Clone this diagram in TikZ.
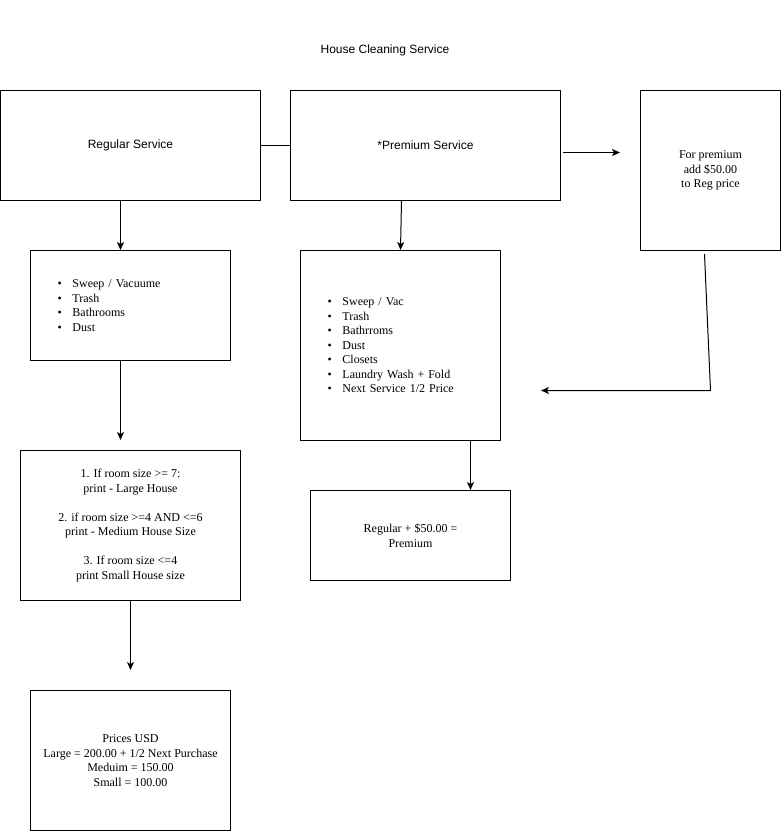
\documentclass[tikz,border=0pt]{standalone}
\usepackage{fontspec}
\setmainfont{Liberation Serif}
\newfontfamily\arialf{Liberation Sans}
\usetikzlibrary{arrows.meta}
\newcommand\itm{\makebox[15pt][l]{\textbullet}}
\tikzset{
  box/.style={draw, line width=1pt, inner sep=0pt, align=center,
    font=\fontsize{12}{14.5}\selectfont},
  sbox/.style={box, font=\arialf\fontsize{12}{14.5}\selectfont},
  lbox/.style={box, align=left, inner xsep=27pt, inner ysep=0pt},
  arr/.style={line width=1pt, -{Stealth[length=8pt,width=7pt,inset=2pt]}},
  ln/.style={line width=1pt}
}
\begin{document}
\begin{tikzpicture}[x=1pt,y=-1pt]
\useasboundingbox (0,0) rectangle (781,831);
\node[font=\arialf\fontsize{12}{14.5}\selectfont] (title) at (385,50) {House Cleaning Service};
\node[sbox, minimum width=260, minimum height=110] (reg) at (130.5,145.5) {Regular Service};
\node[sbox, minimum width=270, minimum height=110] (prem) at (425.5,145.5) {*Premium Service};
\node[box, minimum width=140, minimum height=160] (forp) at (710.5,170.5) {For premium\\ add \$50.00\\to Reg price};
\node[lbox, text width=146, minimum height=110] (lista) at (130.5,305.5) {\itm Sweep / Vacuume\\\itm Trash\\\itm Bathrooms\\\itm Dust};
\node[lbox, text width=146, minimum height=190] (listb) at (400.5,345.5) {\itm Sweep / Vac\\\itm Trash\\\itm Bathrroms\\\itm Dust\\\itm Closets\\\itm Laundry Wash + Fold\\\itm Next Service 1/2 Price};
\node[box, minimum width=200, minimum height=90] (plus) at (410.5,535.5) {Regular + \$50.00 =\\Premium};
\node[box, minimum width=220, minimum height=150] (rules) at (130.5,525.5) {1. If room size {>}= 7:\\print - Large House\\[14.5pt]2. if room size {>}=4 AND {<}=6\\print - Medium House Size\\[14.5pt]3. If room size {<}=4\\print Small House size};
\node[box, minimum width=200, minimum height=140] (prices) at (130.5,760.5) {Prices USD\\Large = 200.00 + 1/2 Next Purchase\\Meduim = 150.00\\Small = 100.00};
\coordinate (e1s) at (563,152.5);
\coordinate (e1e) at (620,152.5);
\coordinate (e2s) at (704.5,254);
\coordinate (e2m) at (710.5,390.5);
\coordinate (e2e) at (541,390.5);
\coordinate (e3e) at (120.5,440);
\coordinate (e4e) at (130.5,670);
\draw[ln] (reg.east) -- (prem.west);
\draw[arr] (e1s) -- (e1e);
\draw[arr] (e2s) -- (e2m) -- (e2e);
\draw[arr] ([xshift=-10pt]reg.south) -- ([xshift=-10pt]lista.north);
\draw[arr] ([xshift=-10pt]lista.south) -- (e3e);
\draw[arr] ([xshift=-24pt]prem.south) -- (listb.north);
\draw[arr] ([xshift=70pt]listb.south) -- ([xshift=60pt]plus.north);
\draw[arr] (rules.south) -- (e4e);
\end{tikzpicture}
\end{document}
